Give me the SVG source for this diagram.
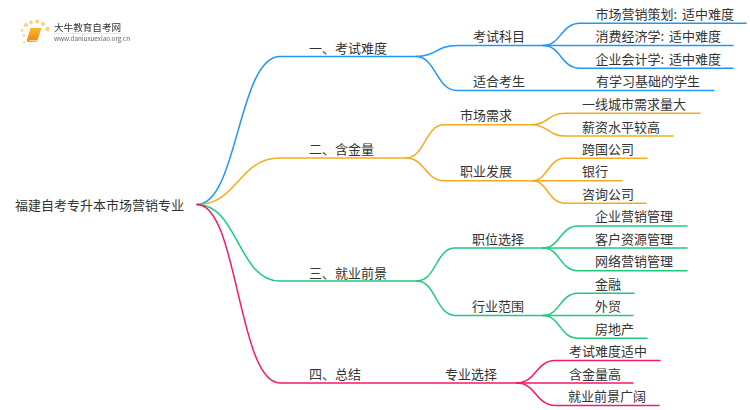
<svg xmlns="http://www.w3.org/2000/svg" width="750" height="410" viewBox="0 0 750 410">
<defs>
<linearGradient id="bk" x1="0" y1="0" x2="0" y2="1"><stop offset="0" stop-color="#fbb829"/><stop offset="1" stop-color="#f08314"/></linearGradient>
<filter id="soft" x="-5%" y="-5%" width="110%" height="110%"><feGaussianBlur stdDeviation="0.35"/></filter>
</defs>
<style>
text{font-family:"Noto Sans CJK SC","Noto Sans",sans-serif;font-size:13px;fill:#333}
.ws{word-spacing:2px}
#connectors path{fill:none;stroke-width:1.5;stroke-linecap:round}
.b path{stroke:#2196f3}
.o path{stroke:#f5ab1f}
.g path{stroke:#1ec97f}
.p path{stroke:#f5186f}
</style>
<rect width="750" height="410" fill="#fff"/>
<g id="logo" filter="url(#soft)">
<g fill="#fbd27e"><circle cx="26" cy="25" r="2"/><circle cx="31" cy="22.500" r="1.900"/><circle cx="37" cy="21.500" r="2.100"/><circle cx="43" cy="24" r="2.100"/><circle cx="47.500" cy="29" r="2.300"/><circle cx="22" cy="30.500" r="1.400"/><circle cx="24" cy="35.500" r="1.300"/><circle cx="24" cy="42.500" r="1.100"/></g>
<path d="M30.500 28L41.500 28L37 41.500L27.500 42Q26.500 40 27.500 38Z" fill="url(#bk)"/>
<path d="M29 40.500L37.500 40.500" fill="none" stroke="#fde3b0" stroke-width="0.800"/>
<text x="54" y="31" style="font-size:9.600px">大牛教育自考网</text>
<path d="M54 33.500L122 33.500" fill="none" stroke="#ddd" stroke-width="0.700"/>
<text x="54" y="41" style="font-size:6.300px;fill:#666">www.daniuxuexiao.org.cn</text>
</g>
<g id="connectors">
<g class="b">
<path d="M197 204.500C238 204.500 238 56.500 280 56.500L416 56.500"/>
<path d="M416 56.500C436 56.500 436 45.500 457 45.500L543 45.500"/>
<path d="M416 56.500C436 56.500 436 90.500 457 90.500L714 90.500"/>
<path d="M543 45.500C561 45.500 561 23.300 580 23.300L746 23.300"/>
<path d="M543 45.500L733 45.500"/>
<path d="M543 45.500C561 45.500 561 68.300 580 68.300L733 68.300"/>
</g>
<g class="o">
<path d="M197 204.500C238 204.500 238 158 280 158L406 158"/>
<path d="M406 158C425 158 425 124.700 444 124.700L532 124.700"/>
<path d="M406 158C425 158 425 180.700 444 180.700L532 180.700"/>
<path d="M532 124.700C548 124.700 548 113.300 565 113.300L700 113.300"/>
<path d="M532 124.700C548 124.700 548 136 565 136L673 136"/>
<path d="M532 180.700C548 180.700 548 158.300 565 158.300L647 158.300"/>
<path d="M532 180.700L622 180.700"/>
<path d="M532 180.700C548 180.700 548 203.300 565 203.300L646 203.300"/>
</g>
<g class="g">
<path d="M197 204.500C238 204.500 238 281 280 281L417 281"/>
<path d="M417 281C436 281 436 248 455 248L543 248"/>
<path d="M417 281C436 281 436 315.500 455 315.500L543 315.500"/>
<path d="M543 248C560 248 560 226 578 226L687 226"/>
<path d="M543 248L687 248"/>
<path d="M543 248C560 248 560 270.700 578 270.700L687 270.700"/>
<path d="M543 315.500C560 315.500 560 293.300 578 293.300L634 293.300"/>
<path d="M543 315.500L633 315.500"/>
<path d="M543 315.500C560 315.500 560 338.300 578 338.300L647 338.300"/>
</g>
<g class="p">
<path d="M197 204.500C238 204.500 238 383 280 383L517 383"/>
<path d="M517 383C536 383 536 360.500 555 360.500L660 360.500"/>
<path d="M517 383L633 383"/>
<path d="M517 383C536 383 536 405.500 555 405.500L659 405.500"/>
</g>
</g>
<g id="root"><text x="15" y="210">福建自考专升本市场营销专业</text></g>
<g id="n1"><text x="309" y="53">一、考试难度</text></g>
<g id="n2"><text x="309" y="154">二、含金量</text></g>
<g id="n3"><text x="309" y="278">三、就业前景</text></g>
<g id="n4"><text x="309" y="379">四、总结</text></g>
<g id="n11"><text x="473" y="41">考试科目</text></g>
<g id="n12"><text x="473" y="86">适合考生</text></g>
<g id="n21"><text x="460" y="120">市场需求</text></g>
<g id="n22"><text x="460" y="176">职业发展</text></g>
<g id="n31"><text x="472" y="244">职位选择</text></g>
<g id="n32"><text x="472" y="311">行业范围</text></g>
<g id="n41"><text x="445" y="379">专业选择</text></g>
<g id="n111"><text class="ws" x="595.500" y="19">市场营销策划: 适中难度</text></g>
<g id="n112"><text class="ws" x="595.500" y="41">消费经济学: 适中难度</text></g>
<g id="n113"><text class="ws" x="595.500" y="64">企业会计学: 适中难度</text></g>
<g id="n121"><text x="596" y="86">有学习基础的学生</text></g>
<g id="n211"><text x="582" y="109">一线城市需求量大</text></g>
<g id="n212"><text x="582" y="132">薪资水平较高</text></g>
<g id="n221"><text x="582" y="154">跨国公司</text></g>
<g id="n222"><text x="582" y="176">银行</text></g>
<g id="n223"><text x="582" y="199">咨询公司</text></g>
<g id="n311"><text x="595" y="221">企业营销管理</text></g>
<g id="n312"><text x="595" y="244">客户资源管理</text></g>
<g id="n313"><text x="595" y="266">网络营销管理</text></g>
<g id="n321"><text x="595" y="289">金融</text></g>
<g id="n322"><text x="595" y="311">外贸</text></g>
<g id="n323"><text x="595" y="334">房地产</text></g>
<g id="n411"><text x="569" y="356">考试难度适中</text></g>
<g id="n412"><text x="569" y="379">含金量高</text></g>
<g id="n413"><text x="568" y="401">就业前景广阔</text></g>
</svg>
